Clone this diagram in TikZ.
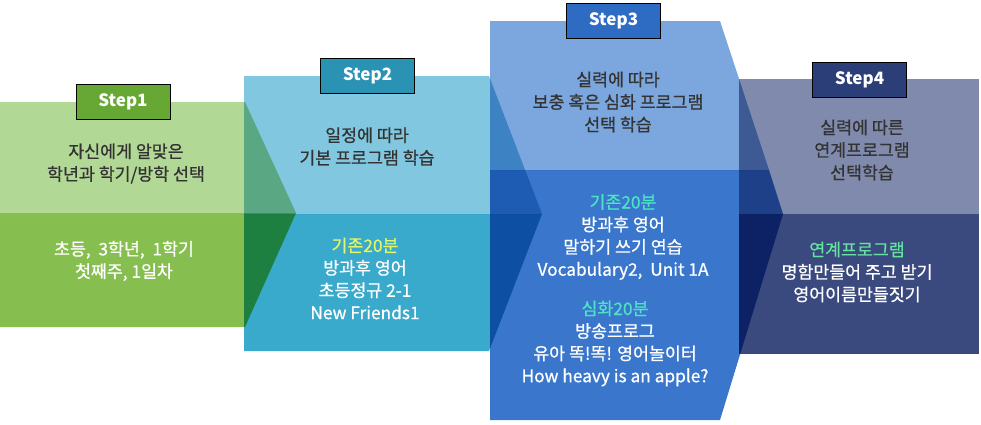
\documentclass[tikz,border=0pt]{standalone}
\usepackage{fontspec}
\setmainfont{Noto Sans CJK KR}
\newfontfamily\medfont{Noto Sans CJK KR}[FakeBold=0.7]
\definecolor{sAtop}{HTML}{B2D896}
\definecolor{sAbot}{HTML}{86BF50}
\definecolor{sAlab}{HTML}{67A834}
\definecolor{sBtop}{HTML}{80C7DF}
\definecolor{sBbot}{HTML}{39AACC}
\definecolor{sBlab}{HTML}{2A92B2}
\definecolor{sCtop}{HTML}{7BA7DE}
\definecolor{sCbot}{HTML}{3A77CC}
\definecolor{sClab}{HTML}{2E6CC4}
\definecolor{sDtop}{HTML}{808AAC}
\definecolor{sDbot}{HTML}{3A4A7E}
\definecolor{sDlab}{HTML}{2C3E78}
\definecolor{darktext}{HTML}{333333}
\definecolor{hlB}{HTML}{E4F567}
\definecolor{hlC}{HTML}{4DE3C4}
\definecolor{hlD}{HTML}{66E2A0}
\begin{document}
\begin{tikzpicture}[x=1pt,y=-1pt,
  darkblock/.style={align=center,inner sep=0pt,text=darktext,font=\medfont\fontsize{17.3}{22.6}\selectfont},
  lightblock/.style={align=center,inner sep=0pt,text=white,font=\medfont\fontsize{17.3}{22.4}\selectfont},
  steplabel/.style={draw=black,line width=0.8pt,minimum width=94pt,minimum height=35pt,inner sep=0pt,text=white,font=\fontsize{17}{20}\bfseries\selectfont},
  mult/.style={blend mode=multiply}]
\useasboundingbox (0,0) rectangle (981,424);
% Step 1
\fill[sAtop] (0,102) -- (245,102) -- (296,213) -- (0,213) -- cycle;
\fill[sAbot] (0,213) -- (296,213) -- (245,327) -- (0,327) -- cycle;
% Step 2
\fill[sBtop,mult] (244,76) -- (489,76) -- (542,214) -- (244,214) -- cycle;
\fill[sBbot,mult] (244,214) -- (542,214) -- (489,351) -- (244,351) -- cycle;
% Step 3
\fill[sCtop,mult] (490,21) -- (720,21) -- (769,170) -- (490,170) -- cycle;
\fill[sCbot,mult] (490,170) -- (769,170) -- (783,214) -- (720,420) -- (490,420) -- cycle;
% Step 4
\fill[sDtop,mult] (739,79) -- (979,79) -- (979,214) -- (739,214) -- cycle;
\fill[sDbot,mult] (739,214) -- (979,214) -- (979,354) -- (739,354) -- cycle;
% labels
\node[steplabel,fill=sAlab] (l1) at (123,102) {Step1};
\node[steplabel,fill=sBlab] (l2) at (367.5,75.5) {Step2};
\node[steplabel,fill=sClab] (l3) at (613.5,20.5) {Step3};
\node[steplabel,fill=sDlab] (l4) at (859.5,79.5) {Step4};
% texts
\node[darkblock] (t1a) at (126,163.5) {자신에게 알맞은\\학년과 학기/방학 선택};
\node[lightblock] (t1b) at (124,261) {초등,~ 3학년,~ 1학기\\첫째주, 1일차};
\node[darkblock] (t2a) at (367,146.5) {일정에 따라\\기본 프로그램 학습};
\node[lightblock] (t2b) at (365,278.5) {{\color{hlB}기존20분}\\방과후 영어\\초등정규 2-1\\New Friends1};
\node[darkblock] (t3a) at (618,102) {실력에 따라\\보충 혹은 심화 프로그램\\선택 학습};
\node[lightblock] (t3b) at (623,237) {{\color{hlC}기존20분}\\방과후 영어\\말하기 쓰기 연습\\Vocabulary2,~~Unit 1A};
\node[lightblock] (t3c) at (615,343.5) {{\color{hlC}심화20분}\\방송프로그\\유아 똑!똑! 영어놀이터\\How heavy is an apple?};
\node[darkblock] (t4a) at (862,150) {실력에 따른\\연계프로그램\\선택학습};
\node[lightblock] (t4b) at (857,272) {{\color{hlD}연계프로그램}\\명함만들어 주고 받기\\영어이름만들짓기};
\end{tikzpicture}
\end{document}
